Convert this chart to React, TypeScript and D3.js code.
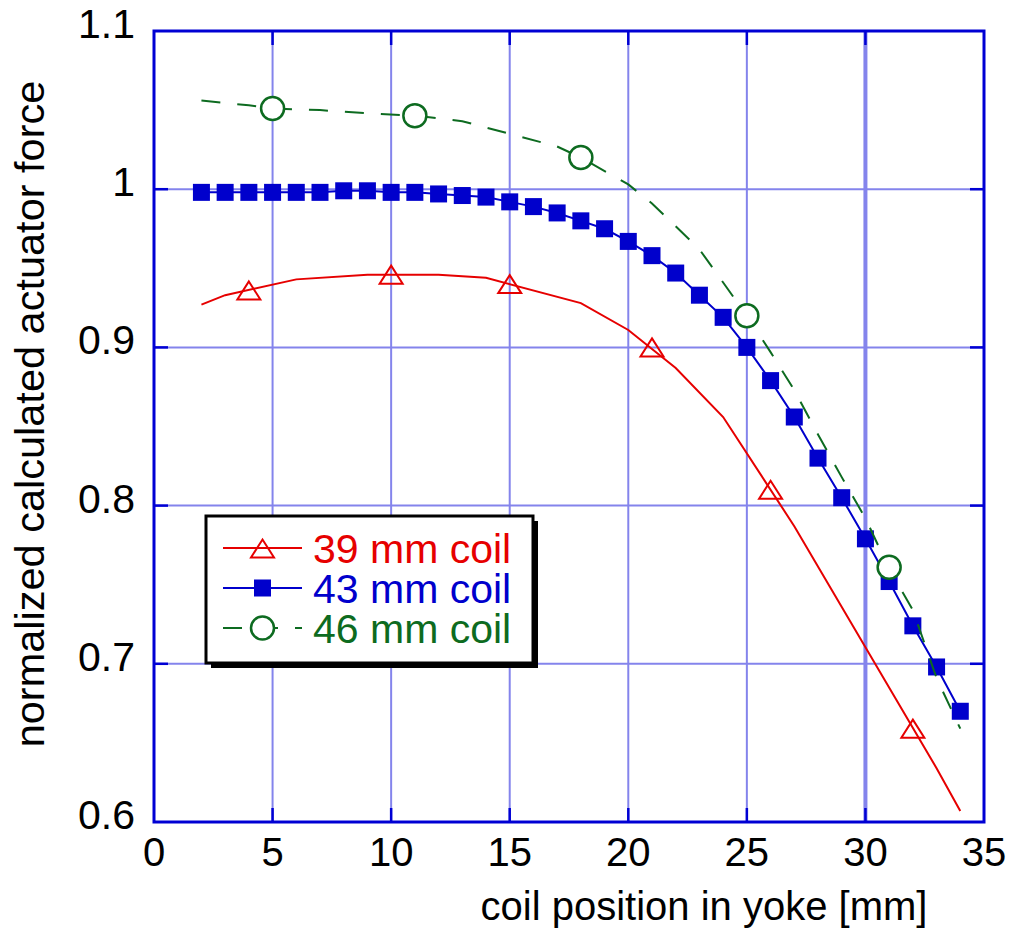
import React from "react";
import * as d3 from "d3";

// 39 mm coil (red, solid line, open triangles)
const redX = [2, 3, 6, 9, 12, 14, 18, 20, 22, 24, 27, 33, 34];
const redY = [0.927, 0.933, 0.943, 0.946, 0.946, 0.944, 0.928, 0.911, 0.887, 0.856, 0.787, 0.634, 0.607];
const redMarkX = [4, 10, 15, 21, 26, 32];
const redMarkY = [0.936, 0.946, 0.94, 0.9, 0.81, 0.659];

// 43 mm coil (blue, solid line, filled squares on every point)
const blueX = [2, 3, 4, 5, 6, 7, 8, 9, 10, 11, 12, 13, 14, 15, 16, 17, 18, 19, 20, 21, 22, 23, 24, 25, 26, 27, 28, 29, 30, 31, 32, 33, 34];
const blueY = [
  0.998, 0.998, 0.998, 0.998, 0.998, 0.998, 0.999, 0.999, 0.998, 0.998, 0.997, 0.996, 0.995, 0.992, 0.989, 0.985, 0.98,
  0.975, 0.967, 0.958, 0.947, 0.933, 0.919, 0.9, 0.879, 0.856, 0.83, 0.805, 0.779, 0.752, 0.724, 0.698, 0.67,
];

// 46 mm coil (green, dashed line, open circles)
const greenX = [2, 4, 5, 7, 9, 11, 13, 15, 17, 18, 20, 21, 23, 24, 25, 26, 27, 28, 29, 30, 31, 32, 33, 34];
const greenY = [
  1.056, 1.053, 1.051, 1.05, 1.048, 1.0465, 1.043, 1.035, 1.027, 1.02, 1.003, 0.991, 0.962, 0.941, 0.92, 0.897, 0.873,
  0.845, 0.818, 0.792, 0.76, 0.734, 0.691, 0.659,
];
const greenMarkX = [5, 11, 18, 25, 31];
const greenMarkY = [1.051, 1.0465, 1.02, 0.92, 0.761];

const xTicks = [0, 5, 10, 15, 20, 25, 30, 35];
const yTicks = [0.6, 0.7, 0.8, 0.9, 1, 1.1];
const legendLabels = ["39 mm coil", "43 mm coil", "46 mm coil"];

const RED = "#e60000";
const BLUE = "#0000cc";
const GREEN = "#0d6b20";
const GRID = "#8484ec";
const FRAME = "#0000d4";
const FONT = "'Liberation Sans', Arial, Helvetica, sans-serif";

const zip = (xs: number[], ys: number[]) => xs.map((x, i) => [x, ys[i]] as [number, number]);

export default function App() {
  const width = 1016;
  const height = 941;
  const left = 154;
  const right = 984;
  const top = 31;
  const bottom = 822;

  const x = d3.scaleLinear().domain([0, 35]).range([left, right]);
  const y = d3.scaleLinear().domain([0.6, 1.1]).range([bottom, top]);

  const line = d3
    .line<[number, number]>()
    .x((d) => x(d[0]))
    .y((d) => y(d[1]));

  const tri = "M0,-9L11.5,9L-11.5,9Z";
  const tickLen = 14;

  // legend layout
  const lg = { x: 206, y: 516, w: 327, h: 147 };
  const rowY = [548, 588, 628];

  return (
    <svg
      width={width}
      height={height}
      style={{ position: "absolute", left: 0, top: 0, background: "#fff" }}
      fontFamily={FONT}
    >
      {/* grid */}
      <g stroke={GRID} strokeWidth={2}>
        {xTicks.slice(1, -1).map((t) => (
          <line key={"gx" + t} x1={x(t)} x2={x(t)} y1={top} y2={bottom} strokeWidth={t === 30 ? 4 : 2} />
        ))}
        {yTicks.slice(1, -1).map((t) => (
          <line key={"gy" + t} x1={left} x2={right} y1={y(t)} y2={y(t)} />
        ))}
      </g>

      {/* 39 mm */}
      <path d={line(zip(redX, redY)) ?? ""} fill="none" stroke={RED} strokeWidth={2} />
      {zip(redMarkX, redMarkY).map((d, i) => (
        <path
          key={"r" + i}
          d={tri}
          transform={`translate(${x(d[0])},${y(d[1])})`}
          fill="none"
          stroke={RED}
          strokeWidth={2}
        />
      ))}

      {/* 43 mm */}
      <path d={line(zip(blueX, blueY)) ?? ""} fill="none" stroke={BLUE} strokeWidth={2} />
      {zip(blueX, blueY).map((d, i) => (
        <rect key={"b" + i} x={x(d[0]) - 8.5} y={y(d[1]) - 8.5} width={17} height={17} fill={BLUE} />
      ))}

      {/* 46 mm */}
      <path
        d={line(zip(greenX, greenY)) ?? ""}
        fill="none"
        stroke={GREEN}
        strokeWidth={2}
        strokeDasharray="19,17"
      />
      {zip(greenMarkX, greenMarkY).map((d, i) => (
        <circle key={"g" + i} cx={x(d[0])} cy={y(d[1])} r={11.5} fill="#fff" stroke={GREEN} strokeWidth={2.5} />
      ))}

      {/* frame and inside ticks */}
      <rect x={left} y={top} width={right - left} height={bottom - top} fill="none" stroke={FRAME} strokeWidth={3} />
      <g stroke={FRAME} strokeWidth={2.5}>
        {xTicks.slice(1, -1).map((t) => (
          <g key={"tx" + t}>
            <line x1={x(t)} x2={x(t)} y1={bottom} y2={bottom - tickLen} />
            <line x1={x(t)} x2={x(t)} y1={top} y2={top + tickLen} />
          </g>
        ))}
        {yTicks.slice(1, -1).map((t) => (
          <g key={"ty" + t}>
            <line x1={left} x2={left + tickLen} y1={y(t)} y2={y(t)} />
            <line x1={right} x2={right - tickLen} y1={y(t)} y2={y(t)} />
          </g>
        ))}
      </g>

      {/* tick labels */}
      <g fontSize={40} fill="#000">
        {xTicks.map((t) => (
          <text key={"lx" + t} x={x(t)} y={866} textAnchor="middle">
            {t}
          </text>
        ))}
        {yTicks.map((t) => (
          <text key={"ly" + t} x={135} y={y(t) + 7} textAnchor="end" fontSize={41}>
            {String(t)}
          </text>
        ))}
      </g>

      {/* axis titles */}
      <text x={704} y={920} fontSize={40} textAnchor="middle" fill="#000">
        coil position in yoke [mm]
      </text>
      <text
        transform="translate(44,414) rotate(-90)"
        fontSize={41.5}
        textAnchor="middle"
        fill="#000"
      >
        normalized calculated actuator force
      </text>

      {/* legend */}
      <rect x={lg.x + 5} y={lg.y + 5} width={lg.w} height={lg.h} fill="#000" />
      <rect x={lg.x} y={lg.y} width={lg.w} height={lg.h} fill="#fff" stroke="#000" strokeWidth={3} />
      <g>
        <line x1={223} x2={302} y1={rowY[0]} y2={rowY[0]} stroke={RED} strokeWidth={2} />
        <path d={tri} transform={`translate(262.5,${rowY[0] + 0.5})`} fill="none" stroke={RED} strokeWidth={2} />
        <line x1={223} x2={302} y1={rowY[1]} y2={rowY[1]} stroke={BLUE} strokeWidth={2} />
        <rect x={262.5 - 8.5} y={rowY[1] - 8.5} width={17} height={17} fill={BLUE} />
        <line x1={223} x2={302} y1={rowY[2]} y2={rowY[2]} stroke={GREEN} strokeWidth={2} strokeDasharray="19,17" />
        <circle cx={262.5} cy={rowY[2]} r={11.5} fill="#fff" stroke={GREEN} strokeWidth={2.5} />
      </g>
      {legendLabels.map((s, i) => (
        <text key={s} x={313} y={rowY[i] + 15} fontSize={41} fill={[RED, BLUE, GREEN][i]}>
          {s}
        </text>
      ))}
    </svg>
  );
}
